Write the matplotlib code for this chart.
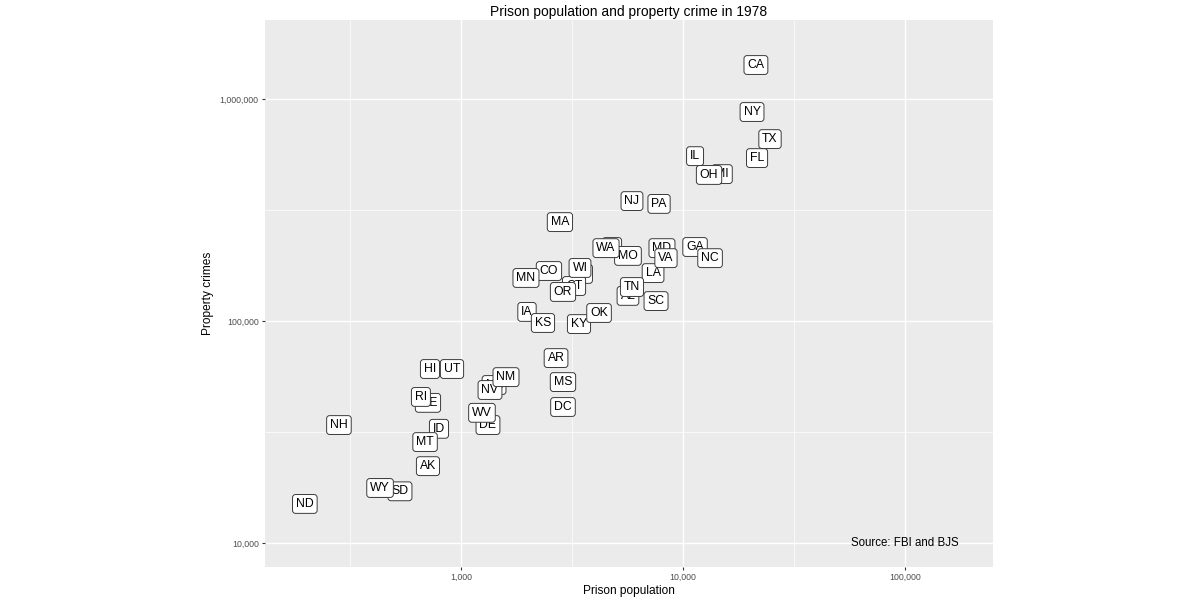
import matplotlib.pyplot as plt
import matplotlib.ticker as mticker
import numpy as np

plt.rcParams['font.family'] = ['Liberation Sans', 'DejaVu Sans']

# states drawn in this order (later labels sit on top)
states = ["VT", "IN", "AZ", "CT", "NE", "ME", "MD", "MI", "AL", "DE",
          "AK", "AR", "CA", "CO", "DC", "FL", "GA", "HI", "ID", "IL",
          "IA", "KS", "KY", "LA", "MA", "MN", "MS", "MO", "MT", "NV",
          "NH", "NJ", "NM", "NY", "NC", "ND", "OH", "OK", "OR", "PA",
          "RI", "SC", "SD", "TN", "TX", "UT", "VA", "WA", "WV", "WI", "WY"]

prison = [432, 4790, 3480, 3230, 1409, 710, 8040, 14990, 5650, 1323,
          710, 2680, 21300, 2490, 2880, 21550, 11330, 725, 796, 11330,
          1983, 2340, 3400, 7330, 2790, 1962, 2880, 5650, 689, 1351,
          282, 5890, 1595, 20460, 13240, 198, 13100, 4186, 2880, 7800,
          660, 7560, 531, 5890, 24650, 911, 8380, 4500, 1243, 3436, 432]

property_crimes = [17700, 215500, 163000, 143800, 51500, 42800, 213000, 459000, 129800, 34000,
                   22200, 68100, 1423000, 168000, 41000, 542000, 215500, 60800, 32700, 553000,
                   109900, 98000, 96900, 164400, 279000, 156300, 53100, 196500, 28500, 48900,
                   34000, 347000, 55900, 874000, 192000, 15000, 455000, 108700, 135200, 337000,
                   45500, 123000, 17100, 142300, 660000, 60800, 192000, 213000, 38600, 173400, 17700]

fig = plt.figure(figsize=(12, 6), dpi=100)
ax = fig.add_axes([265 / 1200, 33 / 600, 728 / 1200, 547 / 600])
ax.set_facecolor('#EBEBEB')
ax.set_xscale('log')
ax.set_yscale('log')
ax.set_xlim(131, 249000)
ax.set_ylim(7800, 2270000)

ax.xaxis.set_major_locator(mticker.FixedLocator([1e3, 1e4, 1e5]))
ax.yaxis.set_major_locator(mticker.FixedLocator([1e4, 1e5, 1e6]))
ax.xaxis.set_minor_locator(mticker.FixedLocator(10 ** np.array([2.5, 3.5, 4.5])))
ax.yaxis.set_minor_locator(mticker.FixedLocator(10 ** np.array([4.5, 5.5])))
fmt = mticker.FuncFormatter(lambda v, p: f"{v:,.0f}")
ax.xaxis.set_major_formatter(fmt)
ax.yaxis.set_major_formatter(fmt)
ax.xaxis.set_minor_formatter(mticker.NullFormatter())
ax.yaxis.set_minor_formatter(mticker.NullFormatter())

ax.grid(True, which='major', color='white', linewidth=1.0)
ax.grid(True, which='minor', color='white', linewidth=0.5)
ax.set_axisbelow(True)
for s in ax.spines.values():
    s.set_visible(False)
ax.tick_params(which='major', length=2.5, width=0.8, color='#333333',
               labelsize=6.3, labelcolor='#4D4D4D', pad=2)
ax.tick_params(which='minor', length=0)

for i, (st, x, y) in enumerate(zip(states, prison, property_crimes)):
    ax.text(x, y, st, fontsize=8.8, ha='center', va='center', zorder=3 + i * 0.01,
            bbox=dict(boxstyle='round,pad=0.28,rounding_size=0.25',
                      fc='white', ec='#3a3a3a', lw=0.7))

ax.text(1e5, 1e4, "Source: FBI and BJS", fontsize=8.3, ha='center', va='center')

ax.set_xlabel("Prison population", fontsize=8.6, labelpad=2)
ax.set_ylabel("Property crimes", fontsize=8.6, labelpad=4)
ax.set_title("Prison population and property crime in 1978", fontsize=10, pad=3)

fig.savefig("out.png", dpi=100)
